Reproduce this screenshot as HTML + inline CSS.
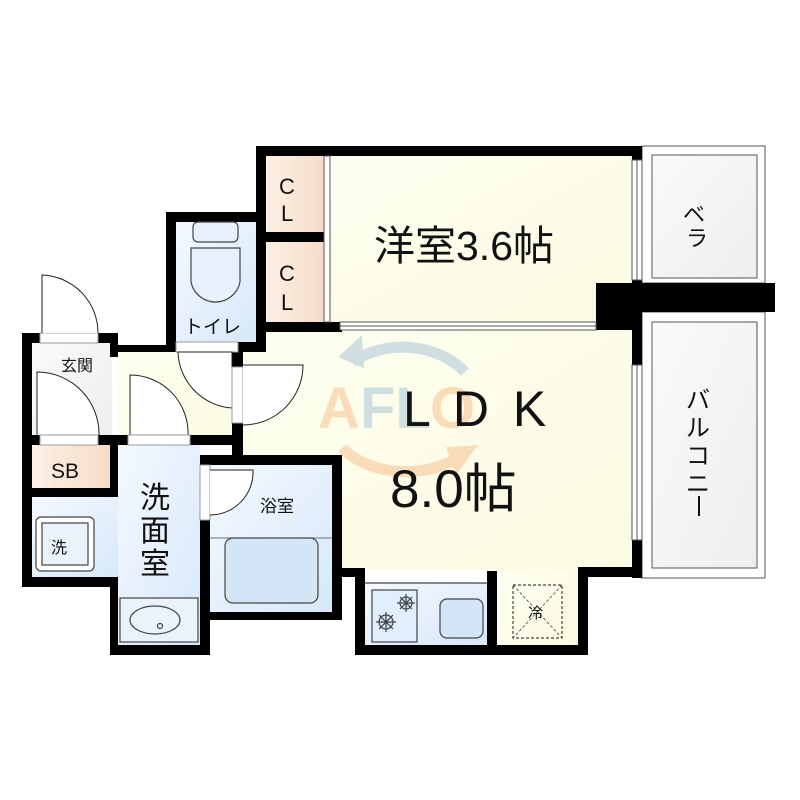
<!DOCTYPE html>
<html><head><meta charset="utf-8"><style>
html,body{margin:0;padding:0;background:#fff;}
svg{display:block;}
text{font-family:"Liberation Sans","Noto Sans CJK JP",sans-serif;fill:#111;}
</style></head><body>
<svg width="800" height="800" viewBox="0 0 800 800" xmlns="http://www.w3.org/2000/svg">
<defs>
<linearGradient id="yl" x1="0" y1="0" x2="1" y2="1"><stop offset="0" stop-color="#fefef0"/><stop offset="1" stop-color="#fbfbe2"/></linearGradient>
<linearGradient id="bl" x1="0" y1="0" x2="1" y2="1"><stop offset="0" stop-color="#f4f9ff"/><stop offset="1" stop-color="#d7e8fa"/></linearGradient>
<linearGradient id="pk" x1="0" y1="0" x2="1" y2="0"><stop offset="0" stop-color="#fdf0e4"/><stop offset="1" stop-color="#f6dcc8"/></linearGradient>
<linearGradient id="gr" x1="0" y1="0" x2="1" y2="1"><stop offset="0" stop-color="#fafafa"/><stop offset="1" stop-color="#eeeeee"/></linearGradient>
</defs>

<rect x="330" y="156" width="302" height="166" fill="url(#yl)"/>
<rect x="240" y="330" width="392" height="240" fill="url(#yl)"/>
<rect x="500" y="570" width="80" height="78" fill="url(#yl)"/>
<rect x="118" y="350" width="125" height="86" fill="url(#yl)"/>
<rect x="266" y="156" width="58" height="76" fill="url(#pk)"/>
<rect x="266" y="242" width="58" height="80" fill="url(#pk)"/>
<rect x="32" y="343" width="80" height="92" fill="url(#gr)"/>
<rect x="32" y="445" width="78" height="43" fill="url(#pk)"/>
<rect x="176" y="222" width="80" height="120" fill="url(#bl)"/>
<rect x="32" y="497" width="88" height="80" fill="url(#bl)"/>
<rect x="118" y="445" width="82" height="200" fill="url(#bl)"/>
<rect x="210" y="465" width="122" height="147" fill="url(#bl)"/>
<rect x="365" y="583" width="122" height="62" fill="url(#bl)"/>

<rect x="642" y="146" width="123" height="137" fill="#fff" stroke="#555" stroke-width="1"/>
<rect x="652" y="155" width="105" height="123" fill="url(#gr)" stroke="#555" stroke-width="1"/>
<rect x="642" y="312" width="123" height="266" fill="#fff" stroke="#555" stroke-width="1"/>
<rect x="652" y="322" width="105" height="246" fill="url(#gr)" stroke="#555" stroke-width="1"/>

<g opacity="0.28">
<path d="M352 362 A78 62 0 0 1 465 372" fill="none" stroke="#5b8fc4" stroke-width="11"/>
<path d="M338 357 L362 335 L364 368 Z" fill="#5b8fc4"/>
<path d="M342 448 A78 55 0 0 0 462 455" fill="none" stroke="#f08a3a" stroke-width="11"/>
<path d="M478 445 L456 475 L446 447 Z" fill="#f08a3a"/>
<text x="318" y="428" font-size="58" font-weight="bold" style="fill:#f08a3a">A</text>
<text x="360" y="428" font-size="58" font-weight="bold" style="fill:#5b8fc4">FL</text>
<text x="430" y="428" font-size="58" font-weight="bold" style="fill:#f08a3a">O</text>
</g>

<g fill="#000">
<rect x="256" y="146" width="386" height="10"/>
<rect x="256" y="146" width="10" height="206"/>
<rect x="632" y="146" width="10" height="14"/>
<rect x="632" y="280" width="10" height="85"/>
<rect x="632" y="540" width="10" height="38"/>
<rect x="596" y="283" width="179" height="29"/>
<rect x="596" y="283" width="36" height="47"/>
<rect x="266" y="232" width="58" height="10"/>
<rect x="256" y="322" width="86" height="10"/>
<rect x="166" y="212" width="100" height="10"/>
<rect x="166" y="212" width="10" height="140"/>
<rect x="166" y="342" width="10" height="10"/>
<rect x="238" y="342" width="28" height="10"/>
<rect x="22" y="333" width="18" height="10"/>
<rect x="98" y="333" width="20" height="10"/>
<rect x="22" y="333" width="10" height="254"/>
<rect x="110" y="340" width="8" height="17"/>
<rect x="110" y="345" width="60" height="7"/>
<rect x="232" y="350" width="11" height="17"/>
<rect x="232" y="423" width="11" height="42"/>
<rect x="22" y="435" width="18" height="10"/>
<rect x="98" y="435" width="30" height="10"/>
<rect x="110" y="435" width="8" height="62"/>
<rect x="190" y="435" width="52" height="10"/>
<rect x="22" y="488" width="96" height="9"/>
<rect x="22" y="577" width="96" height="10"/>
<rect x="110" y="577" width="8" height="78"/>
<rect x="110" y="645" width="98" height="10"/>
<rect x="200" y="455" width="142" height="10"/>
<rect x="200" y="520" width="10" height="135"/>
<rect x="332" y="455" width="10" height="165"/>
<rect x="200" y="612" width="142" height="8"/>
<rect x="340" y="568" width="25" height="9"/>
<rect x="355" y="568" width="10" height="87"/>
<rect x="355" y="645" width="233" height="10"/>
<rect x="487" y="571" width="10" height="78"/>
<rect x="578" y="567" width="10" height="88"/>
<rect x="578" y="567" width="64" height="10"/>
</g>

<g fill="#fff" stroke="#555" stroke-width="1">
<rect x="632" y="160" width="10" height="120"/>
<rect x="632" y="365" width="10" height="175"/>
<rect x="340" y="322" width="256" height="8"/>
<rect x="324" y="156" width="6" height="166"/>
</g>
<line x1="637" y1="160" x2="637" y2="280" stroke="#555"/>
<line x1="637" y1="365" x2="637" y2="540" stroke="#555"/>
<line x1="340" y1="326" x2="596" y2="326" stroke="#555"/>

<g fill="#fff" stroke="#222" stroke-width="1">
<rect x="40" y="333" width="58" height="10" stroke="#999"/>
<path d="M42 333 V275 A58 58 0 0 1 98 333"/>
<path d="M37 435 V372 A62 62 0 0 1 99 435"/>
<rect x="40" y="435" width="58" height="10" stroke="#999"/>
<path d="M130 435 V375 A58 58 0 0 1 188 435"/>
<rect x="128" y="435" width="62" height="10" stroke="#999"/>
<rect x="176" y="342" width="62" height="10" stroke="#999"/>
<path d="M178 352 A58 58 0 0 0 232 408 V352 Z"/>
<rect x="232" y="367" width="11" height="56" stroke="#999"/>
<path d="M243 365 H303 A60 60 0 0 1 243 425"/>
<rect x="200" y="465" width="10" height="55" stroke="#999"/>
<path d="M210 470 H253 A43 43 0 0 1 210 515"/>
</g>

<g fill="none" stroke="#444" stroke-width="1.2">
<rect x="193" y="222" width="45" height="20" rx="5" fill="#e8f1fb"/>
<path d="M191 248 H240 V282 A25 25 0 0 1 191 282 Z" fill="#e8f1fb"/>
<rect x="36" y="517" width="58" height="54" rx="5" fill="#fff"/>
<rect x="42" y="523" width="46" height="42" fill="#eaf3fc"/>
<rect x="225" y="538" width="93" height="65" rx="8" fill="#d3e6f8"/>
<line x1="210" y1="538" x2="332" y2="538" stroke-width="0.8"/>
<rect x="120" y="598" width="78" height="44" fill="#eaf3fc"/>
<ellipse cx="155" cy="620" rx="25" ry="14"/>
<circle cx="160" cy="626" r="2.5"/>
<rect x="372" y="590" width="45" height="52" fill="#e1eefb"/>
<rect x="440" y="599" width="43" height="39" rx="7" fill="#d3e6f8"/>
<line x1="365" y1="583" x2="487" y2="583"/>
<rect x="513" y="585" width="49" height="53" stroke-dasharray="3,2"/>
<path d="M513 585 L562 638 M562 585 L513 638" stroke-dasharray="3,2" stroke-width="0.8"/>
<circle cx="386" cy="622" r="7" fill="#cfe2f5"/>
<path d="M376 622 H396 M386 612 V632 M379 615 L393 629 M393 615 L379 629"/>
<circle cx="406" cy="603" r="6" fill="#cfe2f5"/>
<path d="M397 603 H415 M406 594 V612 M400 597 L412 609 M412 597 L400 609"/>
</g>

<text x="279" y="194" font-size="22">C</text>
<text x="281" y="221" font-size="22">L</text>
<text x="279" y="281" font-size="22">C</text>
<text x="281" y="310" font-size="22">L</text>
<text x="374" y="260" font-size="41">洋室3.6帖</text>
<text x="683" y="222" font-size="22">ベ</text>
<text x="686" y="246" font-size="22">ラ</text>
<text x="686" y="408" font-size="24">バ</text>
<text x="686" y="436" font-size="24">ル</text>
<text x="686" y="464" font-size="24">コ</text>
<text x="686" y="492" font-size="24">ニ</text>
<line x1="699" y1="496" x2="699" y2="516" stroke="#111" stroke-width="2"/>
<text x="403" y="426" font-size="50" letter-spacing="5">L D K</text>
<text x="390" y="507" font-size="53">8.0帖</text>
<text x="184" y="333" font-size="19">トイレ</text>
<text x="61" y="371" font-size="16">玄関</text>
<text x="51" y="478" font-size="21">SB</text>
<text x="51" y="553" font-size="16">洗</text>
<text x="140" y="508" font-size="30">洗</text>
<text x="140" y="541" font-size="30">面</text>
<text x="140" y="574" font-size="30">室</text>
<text x="260" y="512" font-size="17">浴室</text>
<text x="528" y="618" font-size="15">冷</text>
</svg>
</body></html>
